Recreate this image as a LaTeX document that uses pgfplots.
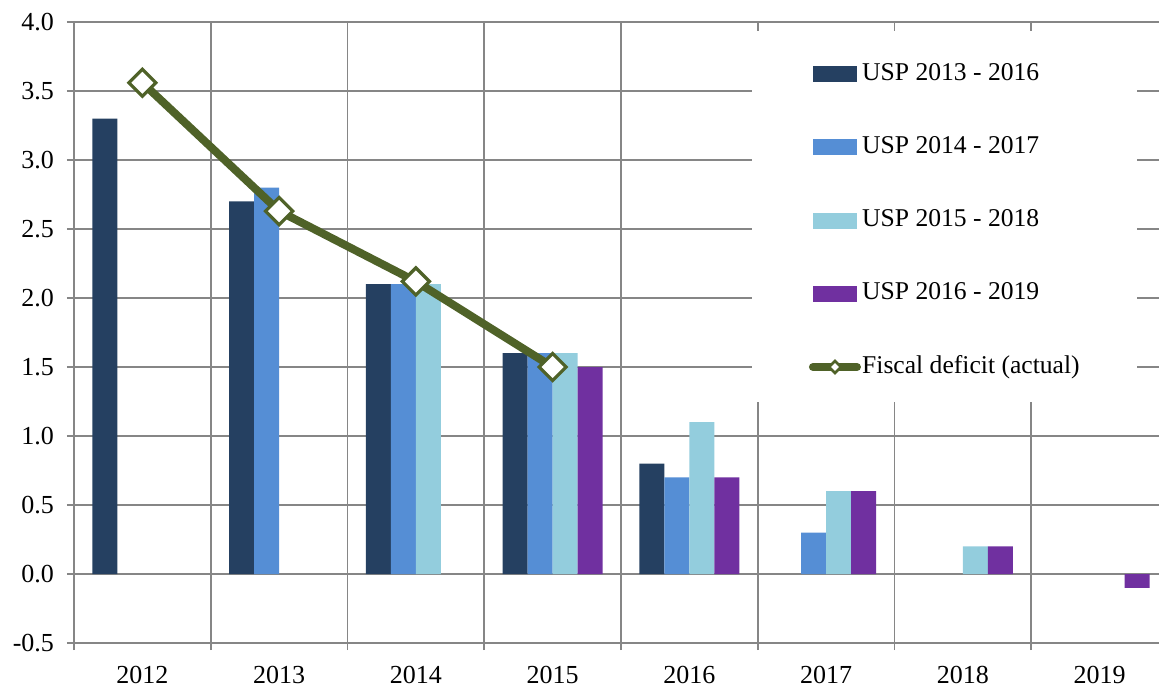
\documentclass[border=0pt]{standalone}
\usepackage{pgfplots}
\pgfplotsset{compat=1.18}
\usepackage{fontspec}
\setmainfont{Liberation Serif}
\definecolor{cA}{HTML}{254061}
\definecolor{cB}{HTML}{558ED5}
\definecolor{cC}{HTML}{93CDDD}
\definecolor{cD}{HTML}{7030A0}
\definecolor{cL}{HTML}{4F6228}
\definecolor{gridc}{HTML}{868686}
\begin{document}
\begin{tikzpicture}
\useasboundingbox (-37pt,-22pt) rectangle (542.5pt,321.5pt);
\begin{axis}[
 scale only axis, width=547pt, height=310.5pt,
 xmin=-0.5, xmax=7.5, ymin=-0.5, ymax=4.0,
 axis lines=left, axis line style={-, gridc, line width=0.8pt},
 xtick={0,1,2,3,4,5,6,7},
 xticklabels={2012,2013,2014,2015,2016,2017,2018,2019},
 minor xtick={-0.5,0.5,1.5,2.5,3.5,4.5,5.5,6.5,7.5},
 ytick={-0.5,0,0.5,1,1.5,2,2.5,3,3.5,4},
 yticklabels={-0.5,0.0,0.5,1.0,1.5,2.0,2.5,3.0,3.5,4.0},
 ymajorgrids, xminorgrids,
 grid style={gridc, line width=0.8pt},
 minor grid style={gridc, line width=0.8pt},
 major grid style={gridc, line width=0.8pt},
 tick align=outside, major tick length=3.5pt, minor tick length=3.5pt,
 tick style={gridc, line width=0.8pt},
 major x tick style={draw=none},
 ticklabel style={font=\fontsize{13}{15}\selectfont},
 xticklabel style={yshift=-7.8pt, inner sep=0pt, text depth=0pt},
 yticklabel style={xshift=-3pt},
 legend cell align=left,
 legend style={at={(rel axis cs:0.6718,0.9372)}, anchor=north west,
   draw=none, fill=none, inner sep=0pt, outer sep=0pt,
   font=\fontsize{12.8}{15}\selectfont, row sep=23.4pt,
   nodes={inner sep=0.6pt, text height=9pt, text depth=3pt}},
]
\fill[white] (rel axis cs:0.6197,0.388) rectangle (rel axis cs:0.9717,0.9855);
\addplot[ybar, bar width=12.5pt, bar shift=-18.75pt, fill=cA, draw=none,
  legend image code/.code={\fill[cA] (0pt,-4pt) rectangle (22pt,4pt);}]
  coordinates {(0,3.3) (1,2.7) (2,2.1) (3,1.6) (4,0.8)};
\addlegendentry{USP 2013 - 2016}
\addplot[ybar, bar width=12.5pt, bar shift=-6.25pt, fill=cB, draw=none,
  legend image code/.code={\fill[cB] (0pt,-4pt) rectangle (22pt,4pt);}]
  coordinates {(1,2.8) (2,2.1) (3,1.6) (4,0.7) (5,0.3)};
\addlegendentry{USP 2014 - 2017}
\addplot[ybar, bar width=12.5pt, bar shift=6.25pt, fill=cC, draw=none,
  legend image code/.code={\fill[cC] (0pt,-4pt) rectangle (22pt,4pt);}]
  coordinates {(2,2.1) (3,1.6) (4,1.1) (5,0.6) (6,0.2)};
\addlegendentry{USP 2015 - 2018}
\addplot[ybar, bar width=12.5pt, bar shift=18.75pt, fill=cD, draw=none,
  legend image code/.code={\fill[cD] (0pt,-4pt) rectangle (22pt,4pt);}]
  coordinates {(3,1.5) (4,0.7) (5,0.6) (6,0.2) (7,-0.1)};
\addlegendentry{USP 2016 - 2019}
\addplot[cL, line width=4pt, mark=square*,
  mark options={rotate=45, fill=white, draw=cL, line width=1.6pt, mark size=4.8pt},
  legend image code/.code={
    \draw[cL, line width=4pt, line cap=round] (0pt,0pt) -- (22pt,0pt);
    \draw[cL, fill=white, line width=1.3pt] (11pt,-3pt) -- (14pt,0pt) -- (11pt,3pt) -- (8pt,0pt) -- cycle;}]
  coordinates {(0,3.56) (1,2.63) (2,2.12) (3,1.5)};
\addlegendentry{Fiscal deficit (actual)}
\end{axis}
\end{tikzpicture}
\end{document}
